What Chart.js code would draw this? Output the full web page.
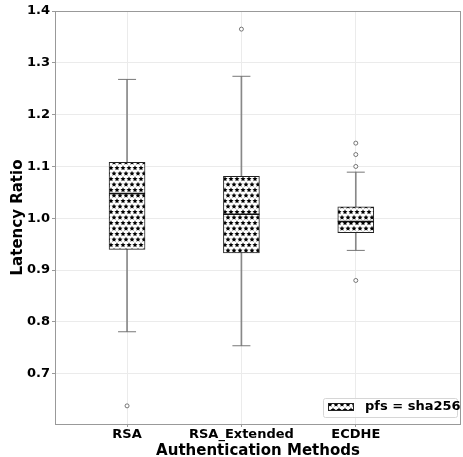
<!DOCTYPE html>
<html>
<head>
<meta charset="utf-8">
<script src="https://cdn.jsdelivr.net/npm/chart.js@4.4.0/dist/chart.umd.min.js"></script>
<style>
  html, body { margin: 0; padding: 0; background: #fff; }
  canvas { display: block; }
</style>
</head>
<body>
<canvas id="boxChart" width="463" height="457"></canvas>
<script>
const categories = ['RSA', 'RSA_Extended', 'ECDHE'];
const q1 = [0.940, 0.933, 0.972];
const median = [1.048, 1.008, 0.994];
const q3 = [1.108, 1.081, 1.022];
const whiskerLow = [0.781, 0.754, 0.938];
const whiskerHigh = [1.268, 1.274, 1.089];
const outliers = [[0.638], [1.365], [1.145, 1.123, 1.100, 0.880]];
const yTicks = [0.7, 0.8, 0.9, 1.0, 1.1, 1.2, 1.3, 1.4];
const legendLabel = 'pfs = sha256';

const FONT = "'DejaVu Sans', sans-serif";

// star hatch, like matplotlib's '*' hatch
function starPattern() {
  const tile = document.createElement('canvas');
  tile.width = 6;
  tile.height = 11;
  const c = tile.getContext('2d');
  c.fillStyle = '#fff';
  c.fillRect(0, 0, 6, 11);
  c.fillStyle = '#000';
  const star = (cx, cy) => {
    c.beginPath();
    for (let i = 0; i < 10; i++) {
      const r = i % 2 === 0 ? 2.7 : 1.25;
      const a = -Math.PI / 2 + i * Math.PI / 5;
      const px = cx + r * Math.cos(a), py = cy + r * Math.sin(a);
      if (i === 0) c.moveTo(px, py); else c.lineTo(px, py);
    }
    c.closePath();
    c.fill();
  };
  star(3, 3);
  star(0, 8.5);
  star(6, 8.5);
  star(3, 14);
  star(0, -2.5);
  star(6, -2.5);
  return c.createPattern(tile, 'repeat');
}

const ctx = document.getElementById('boxChart').getContext('2d');
const hatch = starPattern();

const capPoints = [];
categories.forEach((c, i) => {
  capPoints.push({ x: i, y: whiskerLow[i] });
  capPoints.push({ x: i, y: whiskerHigh[i] });
});
const outlierPoints = [];
outliers.forEach((arr, i) => arr.forEach(v => outlierPoints.push({ x: i, y: v })));

const framePlugin = {
  id: 'frame',
  afterDraw(chart) {
    const { ctx, chartArea: a } = chart;
    ctx.save();
    ctx.strokeStyle = '#999';
    ctx.lineWidth = 1;
    ctx.strokeRect(a.left + 0.5, a.top + 0.5, a.right - a.left - 1, a.bottom - a.top);

    // legend box, bottom right
    ctx.fillStyle = 'rgba(255,255,255,0.8)';
    ctx.strokeStyle = '#d6d6d6';
    ctx.beginPath();
    ctx.roundRect(323.5, 398.5, 134, 19, 2);
    ctx.fill();
    ctx.stroke();
    ctx.fillStyle = hatch;
    ctx.fillRect(328, 403, 26, 8);
    ctx.strokeStyle = '#222';
    ctx.strokeRect(328.5, 403.5, 25, 7);
    ctx.fillStyle = '#000';
    ctx.font = 'bold 13px ' + FONT;
    ctx.textBaseline = 'middle';
    ctx.fillText(legendLabel, 365, 407);
    ctx.restore();
  }
};

new Chart(ctx, {
  type: 'bar',
  data: {
    datasets: [
      {
        // whiskers
        type: 'bar',
        data: categories.map((c, i) => ({ x: i, y: [whiskerLow[i], whiskerHigh[i]] })),
        backgroundColor: '#888',
        borderWidth: 0,
        barThickness: 1,
        grouped: false,
        order: 5
      },
      {
        // boxes
        type: 'bar',
        data: categories.map((c, i) => ({ x: i, y: [q1[i], q3[i]] })),
        backgroundColor: hatch,
        borderColor: '#222',
        borderWidth: 1,
        borderSkipped: false,
        barThickness: 36,
        grouped: false,
        order: 4
      },
      {
        // caps
        type: 'line',
        data: capPoints,
        showLine: false,
        pointStyle: 'line',
        pointRadius: 9,
        borderColor: '#777',
        pointBorderWidth: 1,
        order: 3
      },
      {
        // medians
        type: 'line',
        data: categories.map((c, i) => ({ x: i, y: median[i] })),
        showLine: false,
        pointStyle: 'line',
        pointRadius: 18,
        borderColor: '#111',
        pointBorderWidth: 1.5,
        order: 2
      },
      {
        // fliers
        type: 'line',
        data: outlierPoints,
        showLine: false,
        pointStyle: 'circle',
        pointRadius: 2,
        borderColor: '#555',
        backgroundColor: '#fff',
        pointBorderWidth: 0.8,
        order: 1
      }
    ]
  },
  options: {
    responsive: false,
    animation: false,
    // the wide median markers would otherwise pad the plot area
    layout: { autoPadding: false, padding: { top: 11, right: 2, left: 0, bottom: 0 } },
    plugins: { legend: { display: false }, tooltip: { enabled: false } },
    scales: {
      x: {
        type: 'linear',
        min: -0.63,
        max: 2.92,
        offset: false,
        afterBuildTicks: s => { s.ticks = categories.map((c, i) => ({ value: i })); },
        afterFit: s => { s.height = 33; },
        ticks: {
          callback: v => categories[v],
          color: '#000',
          font: { family: FONT, size: 13, weight: 'bold' },
          padding: 0,
          maxRotation: 0
        },
        grid: { color: '#ebebeb', tickColor: '#999', tickLength: 3, offset: false },
        border: { display: false },
        title: {
          display: true,
          text: 'Authentication Methods',
          color: '#000',
          font: { family: FONT, size: 15, weight: 'bold', lineHeight: 0.8 },
          padding: 0
        }
      },
      y: {
        min: 0.603,
        max: 1.4,
        afterBuildTicks: s => { s.ticks = yTicks.map(v => ({ value: v })); },
        afterFit: s => { s.width = 55; },
        ticks: {
          callback: v => v.toFixed(1),
          color: '#000',
          font: { family: FONT, size: 13, weight: 'bold' },
          padding: 2
        },
        grid: { color: '#ebebeb', tickColor: '#999', tickLength: 3 },
        border: { display: false },
        title: {
          display: true,
          text: 'Latency Ratio',
          color: '#000',
          font: { family: FONT, size: 15, weight: 'bold' },
          padding: { top: 9, bottom: 0 }
        }
      }
    }
  },
  plugins: [framePlugin]
});
</script>
</body>
</html>
